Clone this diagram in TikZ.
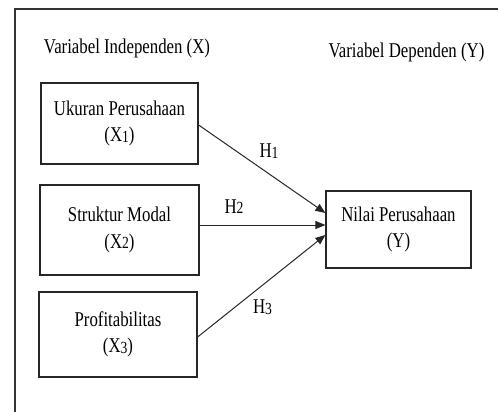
\documentclass[tikz,border=0pt]{standalone}
\usepackage{fontspec}
\setmainfont{Liberation Serif}[FakeStretch=0.8]
\usetikzlibrary{arrows.meta}
\newcommand{\sdig}[1]{\raisebox{-0.6pt}{\fontsize{17}{17}\selectfont #1}}
\tikzset{
  every node/.style={font=\fontsize{21}{26.5}\selectfont, inner sep=0pt},
  varbox/.style={draw=black!85, line width=1.2pt, align=center},
  arr/.style={draw=black!85, line width=1pt, -{Triangle[length=10pt,width=8pt]}},
}
\begin{document}
\begin{tikzpicture}[x=1pt,y=-1pt]
\useasboundingbox (0,0) rectangle (498,412);
% outer frame (left and top sides visible)
\coordinate (fbl) at (15,412);
\coordinate (ftl) at (15,9);
\coordinate (ftr) at (498,9);
\draw[line width=1.2pt, black!80] (fbl) -- (ftl) -- (ftr);
% headers
\node[anchor=base] (hx) at (127,53.5) {Variabel Independen (X)};
\node[anchor=base] (hy) at (406.5,58) {Variabel Dependen (Y)};
% boxes
\node[varbox, minimum width=157pt, minimum height=81pt] (b1) at (119.5,123.5) {Ukuran Perusahaan\\(X\sdig{1})};
\node[varbox, minimum width=159pt, minimum height=90pt] (b2) at (119.5,230) {Struktur Modal\\(X\sdig{2})};
\node[varbox, minimum width=158pt, minimum height=85pt] (b3) at (118,334.5) {Profitabilitas\\(X\sdig{3})};
\node[varbox, minimum width=145pt, minimum height=77pt] (yv) at (398.5,229.5) {Nilai Perusahaan\\(Y)};
% arrows
\coordinate (t1) at ([yshift=16.5pt]yv.west);
\coordinate (t2) at ([yshift=4.5pt]yv.west);
\coordinate (t3) at ([yshift=-5.5pt]yv.west);
\draw[arr] ([yshift=-1.5pt]b1.east) -- (t1);
\draw[arr] (b2.east |- t2) -- (t2);
\draw[arr] ([yshift=-2.5pt]b3.east) -- (t3);
% labels
\node (h1) at (269,151) {H\sdig{1}};
\node (h2) at (234,206.5) {H\sdig{2}};
\node (h3) at (262.5,307) {H\sdig{3}};
\end{tikzpicture}
\end{document}
